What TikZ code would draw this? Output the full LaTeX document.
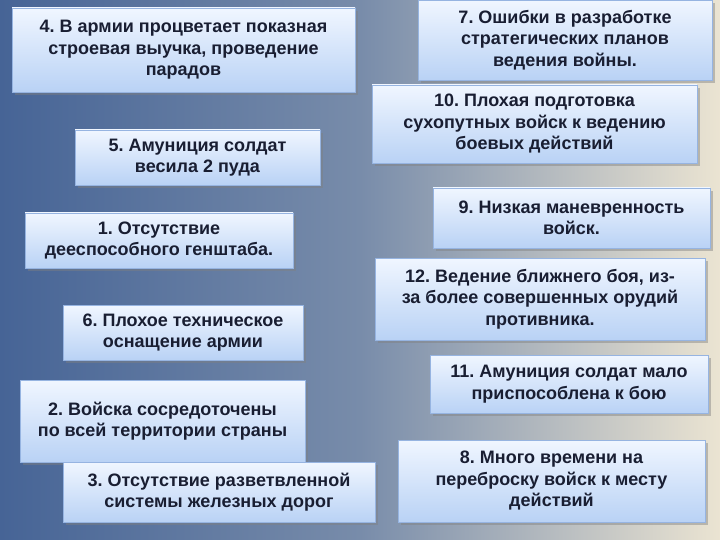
\documentclass[tikz,border=0pt]{standalone}
\usepackage{fontspec}
\setmainfont{Liberation Sans}
\usetikzlibrary{shadows}
\definecolor{bgl}{RGB}{70,100,150}
\definecolor{bgm}{RGB}{120,140,170}
\definecolor{bgr}{RGB}{235,228,210}
\definecolor{bxt}{RGB}{240,246,255}
\definecolor{bxb}{RGB}{185,210,245}
\definecolor{bxd}{RGB}{150,180,225}
\definecolor{txt}{RGB}{25,30,50}
\begin{document}
\frenchspacing
\begin{tikzpicture}[x=1pt,y=-1pt,
  box/.style={draw=bxd, line width=0.6pt, top color=bxt, bottom color=bxb,
    drop shadow={shadow xshift=3pt,shadow yshift=-3pt,opacity=0.45},
    align=center, font=\bfseries\fontsize{18}{21.5}\selectfont, text=txt, inner sep=1pt}]
\useasboundingbox (0,0) rectangle (720,540);
\shade[left color=bgl, right color=bgr, middle color=bgm] (0,0) rectangle (720,540);
\newcommand{\bx}[6]{\node[box, minimum width=#4-#2, minimum height=#5-#3] (#1) at ({(#2+#4)/2},{(#3+#5)/2}) {#6};}
\bx{n4}{12}{8}{355}{92}{4. В армии процветает показная\\строевая выучка, проведение\\парадов}
\bx{n7}{418}{0}{712}{80}{7. Ошибки в разработке\\стратегических планов\\ведения войны.}
\bx{n10}{372}{85}{697}{163}{10. Плохая подготовка\\сухопутных войск к ведению\\боевых действий}
\bx{n5}{75}{130}{320}{185}{5. Амуниция солдат\\весила 2 пуда}
\bx{n9}{433}{188}{710}{248}{9. Низкая маневренность\\войск.}
\bx{n1}{25}{213}{293}{268}{1. Отсутствие\\дееспособного генштаба.}
\bx{n12}{375}{258}{705}{340}{12. Ведение ближнего боя, из-\\за более совершенных орудий\\противника.}
\bx{n6}{63}{305}{303}{360}{6. Плохое техническое\\оснащение армии}
\bx{n11}{430}{355}{708}{413}{11. Амуниция солдат мало\\приспособлена к бою}
\bx{n2}{20}{380}{305}{462}{2. Войска сосредоточены\\по всей территории страны}
\bx{n3}{63}{462}{375}{522}{3. Отсутствие разветвленной\\системы железных дорог}
\bx{n8}{398}{440}{705}{522}{8. Много времени на\\переброску войск к месту\\действий}
\end{tikzpicture}
\end{document}
